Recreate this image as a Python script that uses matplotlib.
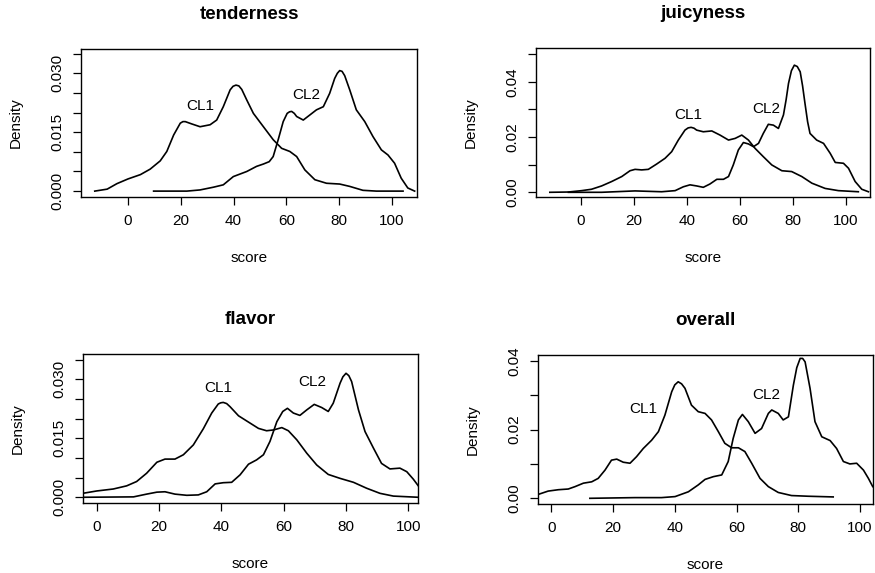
import matplotlib
matplotlib.use("Agg")
import matplotlib.pyplot as plt

plt.rcParams["font.family"] = ["Liberation Sans", "DejaVu Sans"]

# --- tenderness ---
tend_cl1_x = [-12.6, -7.9, -4.2, 0, 4.7, 8.4, 12.2, 14.7, 17.3, 19.8, 20.8, 21.7, 24.2, 27.3, 31.1, 33.6,
              36.1, 38.7, 39.8, 40.9, 42.0, 43.1, 45.0, 47.5, 51.3, 55.0, 58.2, 61.3, 63.9, 67.0, 70.8,
              75.2, 80.2, 84.0, 89.0, 94.1, 104.2]
tend_cl1_y = [0, 0.0005, 0.0019, 0.0031, 0.0042, 0.0056, 0.0077, 0.0101, 0.0143, 0.0173, 0.0177, 0.0177,
              0.0171, 0.0164, 0.0169, 0.0181, 0.0215, 0.0258, 0.0267, 0.0270, 0.0268, 0.0259, 0.0232,
              0.0198, 0.0164, 0.0131, 0.0109, 0.0101, 0.0088, 0.0054, 0.0029, 0.0020, 0.0018, 0.0012,
              0.0002, 0, 0]
tend_cl2_x = [9.7, 22.3, 27.3, 32.4, 36.1, 39.9, 45.0, 48.7, 51.3, 53.5, 55.0, 56.9, 58.8, 60.3, 61.2,
              62.0, 63.0, 63.9, 66.4, 68.9, 71.4, 74.0, 76.4, 78.3, 79.3, 80.2, 81.1, 82.1, 84.0, 86.5,
              89.7, 92.8, 96.0, 98.5, 101.0, 103.5, 106.0, 108.6]
tend_cl2_y = [0, 0, 0.0003, 0.0010, 0.0016, 0.0037, 0.0050, 0.0063, 0.0069, 0.0075, 0.0088, 0.0131,
              0.0177, 0.0198, 0.0202, 0.0203, 0.0198, 0.0190, 0.0181, 0.0194, 0.0207, 0.0215, 0.0249,
              0.0287, 0.0300, 0.0307, 0.0305, 0.0294, 0.0258, 0.0207, 0.0177, 0.0139, 0.0105, 0.0092,
              0.0071, 0.0033, 0.0008, 0]

# --- juicyness ---
juic_cl1_x = [-11.6, -4.6, 0.4, 4.1, 7.9, 11.7, 15.5, 18.6, 20.5, 23.0, 25.5, 28.6, 31.8, 34.3, 36.8,
              39.3, 40.5, 41.6, 42.7, 43.7, 46.2, 49.4, 52.5, 55.7, 58.2, 60.7, 63.2, 65.7, 68.8, 72.0,
              75.8, 79.5, 83.3, 87.1, 92.1, 97.1, 104.6]
juic_cl1_y = [0, 0.0001, 0.0006, 0.0011, 0.0023, 0.0039, 0.0057, 0.0078, 0.0083, 0.0081, 0.0083, 0.0102,
              0.0123, 0.0147, 0.0189, 0.0225, 0.0233, 0.0235, 0.0232, 0.0225, 0.0219, 0.0222, 0.0207,
              0.0189, 0.0195, 0.0207, 0.0189, 0.0159, 0.0129, 0.0099, 0.0078, 0.0075, 0.0057, 0.0033,
              0.0014, 0.0006, 0.0002]
juic_cl2_x = [-4.6, 7.9, 20.5, 30.5, 35.6, 38.7, 41.2, 43.7, 46.2, 48.7, 51.3, 53.8, 55.7, 57.5, 59.4,
              61.3, 63.2, 65.1, 67.0, 68.8, 70.7, 72.6, 74.5, 76.4, 77.4, 78.3, 79.4, 80.5, 81.6, 82.7,
              83.6, 84.5, 85.5, 86.4, 88.9, 91.5, 94.0, 95.9, 99.0, 100.9, 103.4, 105.9, 108.4]
juic_cl2_y = [0, 0, 0.0005, 0.0002, 0.0006, 0.0020, 0.0027, 0.0023, 0.0018, 0.0030, 0.0047, 0.0047,
              0.0057, 0.0099, 0.0153, 0.0180, 0.0175, 0.0165, 0.0177, 0.0213, 0.0246, 0.0243, 0.0231,
              0.0280, 0.0335, 0.0394, 0.0440, 0.0460, 0.0455, 0.0436, 0.0385, 0.0322, 0.0255, 0.0213,
              0.0189, 0.0177, 0.0141, 0.0108, 0.0105, 0.0087, 0.0039, 0.0011, 0.0002]

# --- flavor ---
flav_cl1_x = [-4.5, 0, 5.3, 9.6, 12.8, 16.0, 19.3, 21.9, 25.1, 27.8, 31.0, 34.2, 36.9, 39.0, 39.8, 40.6,
              41.7, 42.8, 45.5, 48.7, 51.9, 54.5, 56.7, 59.4, 61.5, 64.2, 67.4, 70.6, 74.3, 78.1, 82.4,
              86.6, 90.9, 95.2, 103.2]
flav_cl1_y = [0.0010, 0.0016, 0.0021, 0.0029, 0.0040, 0.0061, 0.0089, 0.0097, 0.0097, 0.0108, 0.0133,
              0.0174, 0.0214, 0.0237, 0.0240, 0.0241, 0.0238, 0.0230, 0.0207, 0.0191, 0.0175, 0.0169,
              0.0171, 0.0177, 0.0169, 0.0146, 0.0112, 0.0082, 0.0058, 0.0048, 0.0038, 0.0023, 0.0010,
              0.0003, 0]
flav_cl2_x = [-4.5, 11.8, 16.0, 19.3, 21.9, 25.1, 28.9, 32.6, 35.3, 38.0, 40.6, 43.3, 46.0, 48.7, 51.3,
              53.5, 55.6, 57.8, 59.7, 61.2, 63.1, 65.2, 67.4, 69.8, 72.2, 74.3, 75.9, 78.1, 79.0, 80.0,
              80.9, 81.8, 84.0, 86.1, 88.8, 91.4, 94.1, 97.3, 99.5, 101.6, 103.2]
flav_cl2_y = [0, 0.0001, 0.0008, 0.0013, 0.0014, 0.0008, 0.0005, 0.0006, 0.0014, 0.0034, 0.0037, 0.0038,
              0.0057, 0.0084, 0.0095, 0.0108, 0.0142, 0.0192, 0.0218, 0.0226, 0.0214, 0.0208, 0.0222,
              0.0236, 0.0228, 0.0218, 0.0239, 0.0290, 0.0306, 0.0315, 0.0309, 0.0294, 0.0222, 0.0167,
              0.0125, 0.0086, 0.0072, 0.0074, 0.0065, 0.0046, 0.0029]

# --- overall ---
over_cl1_x = [-4.0, -1.0, 2.3, 5.5, 7.7, 10.4, 13.1, 15.2, 17.4, 19.5, 21.2, 23.3, 25.5, 27.6, 29.8, 32.5,
              34.7, 36.8, 39.0, 40.0, 41.1, 42.2, 43.3, 45.4, 47.6, 49.8, 51.9, 54.1, 56.2, 58.4, 60.6,
              62.7, 64.9, 67.6, 70.3, 73.5, 77.8, 83.2, 91.3]
over_cl1_y = [0.0012, 0.0021, 0.0025, 0.0027, 0.0034, 0.0044, 0.0048, 0.0058, 0.0082, 0.0111, 0.0114,
              0.0105, 0.0102, 0.0121, 0.0145, 0.0169, 0.0194, 0.0242, 0.0310, 0.0330, 0.0339, 0.0333,
              0.0320, 0.0271, 0.0252, 0.0247, 0.0228, 0.0194, 0.0160, 0.0147, 0.0147, 0.0136, 0.0102,
              0.0058, 0.0034, 0.0017, 0.0008, 0.0006, 0.0004]
over_cl2_x = [12.5, 27.1, 35.7, 40.1, 44.4, 47.6, 49.8, 52.5, 55.2, 57.3, 58.9, 60.6, 61.9, 63.8, 66.0,
              68.1, 70.3, 71.4, 73.5, 75.1, 76.8, 78.4, 79.5, 80.6, 81.4, 82.2, 83.8, 85.4, 87.6, 90.3,
              92.4, 94.6, 96.7, 98.9, 101.1, 102.7, 104.1]
over_cl2_y = [0, 0.0002, 0.0002, 0.0005, 0.0019, 0.0039, 0.0055, 0.0063, 0.0068, 0.0107, 0.0174, 0.0228,
              0.0244, 0.0223, 0.0189, 0.0203, 0.0247, 0.0257, 0.0247, 0.0228, 0.0237, 0.0329, 0.0380,
              0.0407, 0.0407, 0.0397, 0.0320, 0.0223, 0.0179, 0.0168, 0.0145, 0.0107, 0.0100, 0.0102,
              0.0082, 0.0058, 0.0034]

titles = ["tenderness", "juicyness", "flavor", "overall"]
x_ticks = [0, 20, 40, 60, 80, 100]
y_ticks_3 = [0, 0.005, 0.010, 0.015, 0.020, 0.025, 0.030, 0.035]
y_labels_3 = ["0.000", "", "", "0.015", "", "", "0.030", ""]
y_ticks_2 = [0, 0.01, 0.02, 0.03, 0.04, 0.05]
y_labels_2 = ["0.00", "", "0.02", "", "0.04", ""]
y_ticks_4 = [0, 0.01, 0.02, 0.03, 0.04]
y_labels_4 = ["0.00", "", "0.02", "", "0.04"]

# label positions (data coords) for the CL1 / CL2 annotations
cl1_pos = [(27.3, 0.0217), (40.6, 0.0280), (39.0, 0.0277), (29.8, 0.0259)]
cl2_pos = [(67.6, 0.0245), (69.8, 0.0300), (69.2, 0.0294), (69.7, 0.0300)]

panels = [
    (tend_cl1_x, tend_cl1_y, tend_cl2_x, tend_cl2_y, (-17.8, 109.5), (-0.0015, 0.0362), y_ticks_3, y_labels_3),
    (juic_cl1_x, juic_cl1_y, juic_cl2_x, juic_cl2_y, (-16.8, 109.0), (-0.0017, 0.0522), y_ticks_2, y_labels_2),
    (flav_cl1_x, flav_cl1_y, flav_cl2_x, flav_cl2_y, (-4.4, 103.1), (-0.00145, 0.0364), y_ticks_3, y_labels_3),
    (over_cl1_x, over_cl1_y, over_cl2_x, over_cl2_y, (-4.2, 104.1), (-0.00166, 0.0417), y_ticks_4, y_labels_4),
]

# axes rectangles in figure fractions [left, bottom, width, height]
rects = [
    [0.0926, 0.6562, 0.3840, 0.2583],
    [0.6126, 0.6562, 0.3817, 0.2600],
    [0.0949, 0.1222, 0.3828, 0.2600],
    [0.6152, 0.1204, 0.3822, 0.2601],
]

fig = plt.figure(figsize=(8.75, 5.73), dpi=100)

for i, (x1, y1, x2, y2, xlim, ylim, yt, yl) in enumerate(panels):
    ax = fig.add_axes(rects[i])
    ax.plot(x1, y1, color="black", lw=1.2, solid_joinstyle="round")
    ax.plot(x2, y2, color="black", lw=1.2, solid_joinstyle="round")
    ax.set_xlim(*xlim)
    ax.set_ylim(*ylim)
    ax.set_xticks(x_ticks)
    ax.set_xticklabels([str(t) for t in x_ticks], fontsize=11)
    ax.set_yticks(yt)
    ax.set_yticklabels(yl, rotation=90, va="center", fontsize=11)
    ax.tick_params(direction="out", length=6, width=0.9, pad=6)
    for s in ax.spines.values():
        s.set_linewidth(1.0)
    ax.text(*cl1_pos[i], "CL1", ha="center", va="center", fontsize=11)
    ax.text(*cl2_pos[i], "CL2", ha="center", va="center", fontsize=11)
    ax.text(0.5, 1.23, titles[i], transform=ax.transAxes, ha="center", va="center",
            fontsize=13.5, fontweight="bold")
    ax.set_xlabel("score", fontsize=11, va="center")
    ax.xaxis.set_label_coords(0.5, -0.41)
    ax.set_ylabel("Density", fontsize=11, va="center")
    ax.yaxis.set_label_coords(-0.195, 0.5)

fig.savefig("out.png", dpi=100)
